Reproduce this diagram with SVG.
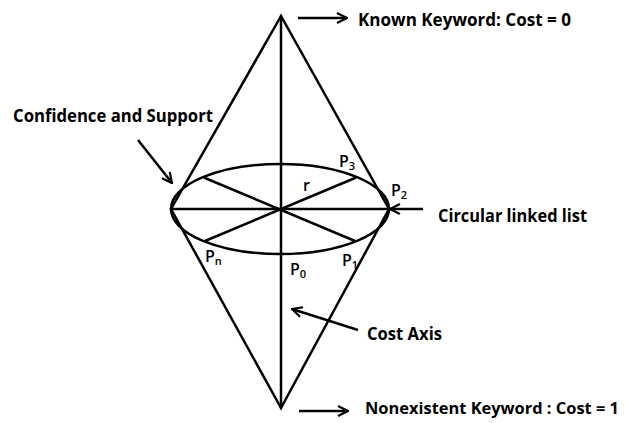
<svg xmlns="http://www.w3.org/2000/svg" width="626" height="423" viewBox="0 0 626 423">
<style>
.ln{stroke:#000;stroke-width:2.5;fill:none;stroke-linecap:round}
.ar{stroke:#000;stroke-width:2.5;fill:none}
.lb{font-family:"Open Sans","Liberation Sans",sans-serif;font-weight:700;font-size:18px;fill:#000}
.p{font-family:"Open Sans","Liberation Sans",sans-serif;font-weight:600;font-size:16px;fill:#000}
.s{font-size:11px}
</style>
<defs>
<marker id="ah" viewBox="0 0 12 12" refX="11" refY="6" markerWidth="12" markerHeight="12" markerUnits="userSpaceOnUse" orient="auto">
<path d="M1,1 L11,6 L1,11" stroke="#000" stroke-width="2.2" fill="none"/>
</marker>
</defs>
<g id="cone">
<path class="ln" d="M281,16 L171,209 L281,408 L389,209 Z"/>
<line class="ln" x1="281" y1="16" x2="281" y2="408"/>
<ellipse class="ln" cx="280" cy="209" rx="109" ry="45"/>
<line class="ln" x1="171" y1="209" x2="389" y2="209"/>
<line class="ln" x1="205" y1="178" x2="355" y2="241"/>
<line class="ln" x1="355" y1="178" x2="205" y2="241"/>
</g>
<g id="point-labels">
<text class="p" x="339" y="167">P<tspan class="s" dy="3">3</tspan></text>
<text class="p" x="391" y="196">P<tspan class="s" dy="3">2</tspan></text>
<text class="p" x="303" y="191">r</text>
<text class="p" x="205" y="262">P<tspan class="s" dy="3">n</tspan></text>
<text class="p" x="290" y="275">P<tspan class="s" dy="3">0</tspan></text>
<text class="p" x="342" y="266">P<tspan class="s" dy="3">1</tspan></text>
</g>
<g id="connectors">
<line class="ar" x1="298" y1="18" x2="347" y2="18" marker-end="url(#ah)"/>
<line class="ar" x1="138" y1="140" x2="172" y2="183" marker-end="url(#ah)"/>
<line class="ar" x1="423" y1="209" x2="390" y2="209" marker-end="url(#ah)"/>
<line class="ar" x1="358" y1="330" x2="292" y2="309" marker-end="url(#ah)"/>
<line class="ar" x1="299" y1="411" x2="348" y2="411" marker-end="url(#ah)"/>
</g>
<g id="label-known"><text class="lb" x="358" y="26" textLength="213" lengthAdjust="spacingAndGlyphs">Known Keyword: Cost = 0</text></g>
<g id="label-confidence"><text class="lb" x="13" y="122" textLength="200" lengthAdjust="spacingAndGlyphs">Confidence and Support</text></g>
<g id="label-circular"><text class="lb" x="438" y="222" textLength="149" lengthAdjust="spacingAndGlyphs">Circular linked list</text></g>
<g id="label-cost"><text class="lb" x="367" y="340" textLength="75" lengthAdjust="spacingAndGlyphs">Cost Axis</text></g>
<g id="label-nonexistent"><text class="lb" x="365" y="414" style="font-size:16px" textLength="254" lengthAdjust="spacingAndGlyphs">Nonexistent Keyword : Cost = 1</text></g>
</svg>
